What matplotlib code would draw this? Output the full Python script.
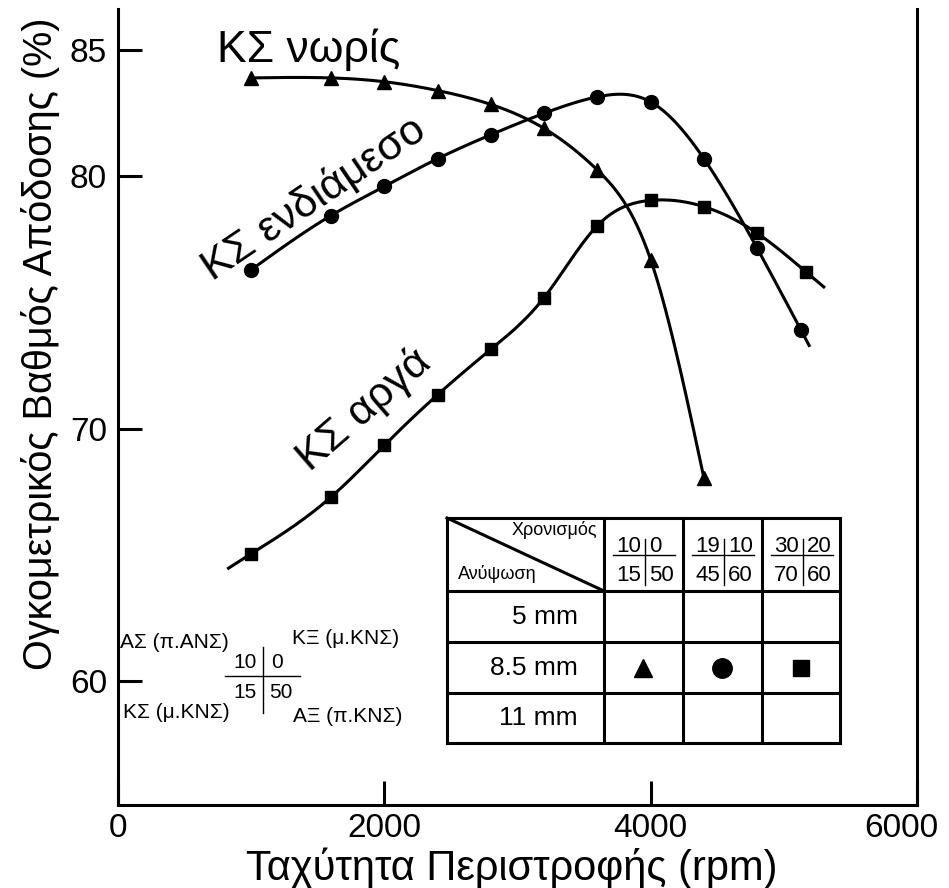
import numpy as np
import matplotlib.pyplot as plt
import matplotlib.transforms as mtransforms

# στροφές (rpm) και ογκομετρικός βαθμός απόδοσης (%) για τρεις χρονισμούς
rpm_early = [1000, 1600, 2000, 2400, 2800, 3200, 3600, 4000, 4400]
eff_early = [83.9, 83.9, 83.75, 83.4, 82.85, 81.9, 80.25, 76.7, 68.05]

rpm_mid = [1000, 1600, 2000, 2400, 2800, 3200, 3600, 4000, 4400, 4800, 5130]
eff_mid = [76.3, 78.45, 79.6, 80.7, 81.65, 82.5, 83.15, 82.95, 80.7, 77.15, 73.9]

rpm_late = [1000, 1600, 2000, 2400, 2800, 3200, 3600, 4000, 4400, 4800, 5170]
eff_late = [65.05, 67.3, 69.35, 71.35, 73.15, 75.2, 78.05, 79.05, 78.8, 77.75, 76.2]

# έκταση κάθε καμπύλης στον άξονα x
span_early = (1000, 4400)
span_mid = (1000, 5190)
span_late = (830, 5300)

curve_names = ['ΚΣ νωρίς', 'ΚΣ ενδιάμεσο', 'ΚΣ αργά']
markers = ['^', 'o', 's']
lifts = ['5 mm', '8.5 mm', '11 mm']
timings = [('10', '0', '15', '50'), ('19', '10', '45', '60'), ('30', '20', '70', '60')]

plt.rcParams['font.family'] = ['Liberation Sans', 'DejaVu Sans']


def cubic_spline(x, y, xs):
    # φυσική κυβική spline για ομαλή καμπύλη μέσα από τα σημεία
    x = np.asarray(x, float)
    y = np.asarray(y, float)
    n = len(x)
    h = np.diff(x)
    A = np.zeros((n, n))
    r = np.zeros(n)
    A[0, 0] = A[-1, -1] = 1
    for i in range(1, n - 1):
        A[i, i - 1] = h[i - 1]
        A[i, i] = 2 * (h[i - 1] + h[i])
        A[i, i + 1] = h[i]
        r[i] = 3 * ((y[i + 1] - y[i]) / h[i] - (y[i] - y[i - 1]) / h[i - 1])
    c = np.linalg.solve(A, r)
    b = (y[1:] - y[:-1]) / h - h * (2 * c[:-1] + c[1:]) / 3
    d = (c[1:] - c[:-1]) / (3 * h)
    idx = np.clip(np.searchsorted(x, xs) - 1, 0, n - 2)
    dx = xs - x[idx]
    return y[idx] + b[idx] * dx + c[idx] * dx ** 2 + d[idx] * dx ** 3


fig = plt.figure(figsize=(9.49, 8.88), dpi=100)
ax = fig.add_axes([118 / 949, 1 - 805 / 888, (917 - 118) / 949, (805 - 9) / 888])

for rx, ry, span, m, ms in [(rpm_early, eff_early, span_early, '^', 10),
                            (rpm_mid, eff_mid, span_mid, 'o', 10),
                            (rpm_late, eff_late, span_late, 's', 8.5)]:
    xs = np.linspace(span[0], span[1], 400)
    ax.plot(xs, cubic_spline(rx, ry, xs), color='black', lw=2.2, zorder=2)
    ax.plot(rx, ry, ls='none', marker=m, ms=ms, color='black', zorder=3)

ax.set_xlim(0, 6000)
ax.set_ylim(55.1, 86.63)
ax.set_xticks([0, 2000, 4000, 6000])
ax.set_yticks([60, 70, 80, 85])
ax.tick_params(direction='in', length=17, width=2.2, labelsize=24, right=False, top=False)
ax.tick_params(axis='y', pad=8)
ax.tick_params(axis='x', pad=6)
ax.spines['top'].set_visible(False)
for s in ['left', 'right', 'bottom']:
    ax.spines[s].set_linewidth(2.2)

# η τελευταία ετικέτα λίγο αριστερά ώστε να χωρά στο σχήμα
last = ax.get_xticklabels()[-1]
last.set_transform(last.get_transform() +
                   mtransforms.ScaledTranslation(-0.16, 0, fig.dpi_scale_trans))

ax.set_xlabel('Ταχύτητα Περιστροφής (rpm)', fontsize=30)
ax.xaxis.set_label_coords(0.493, -0.054)
ax.set_ylabel('Ογκομετρικός Βαθμός Απόδοσης (%)', fontsize=28.5)
ax.yaxis.set_label_coords(-0.0976, 0.58)
ax.yaxis.label.set_verticalalignment('center')

ax.text(743, 84.53, curve_names[0], fontsize=32, ha='left', va='baseline')
ax.text(713, 75.86, curve_names[1], fontsize=31, rotation=34,
        rotation_mode='anchor', ha='left', va='baseline')
ax.text(1442, 68.27, curve_names[2], fontsize=31, rotation=41,
        rotation_mode='anchor', ha='left', va='baseline')

# πίνακας συμβόλων και υπόμνημα χρονισμού σε συντεταγμένες εικονοστοιχείων
ov = fig.add_axes([0, 0, 1, 1], facecolor='none')
ov.set_xlim(0, 949)
ov.set_ylim(888, 0)
ov.axis('off')

cols = [447, 604, 683, 762, 840]
rows = [518, 591, 642, 693, 743]
for x in cols:
    ov.plot([x, x], [rows[0], rows[-1]], color='black', lw=2.2)
for y in rows:
    ov.plot([cols[0], cols[-1]], [y, y], color='black', lw=2.2)
ov.plot([cols[0], cols[1]], [rows[0], rows[1]], color='black', lw=2.2)
ov.text(597, 530, 'Χρονισμός', fontsize=13, ha='right', va='center')
ov.text(458, 574, 'Ανύψωση', fontsize=13, ha='left', va='center')

for j, (a, b, c, d) in enumerate(timings):
    vx = cols[j + 1] + 41
    ov.plot([cols[j + 1] + 9, cols[j + 1] + 71], [555, 555], color='black', lw=1)
    ov.plot([vx, vx], [539, 585], color='black', lw=1)
    ov.text(vx - 4, 546, a, fontsize=16, ha='right', va='center')
    ov.text(vx + 4, 546, b, fontsize=16, ha='left', va='center')
    ov.text(vx - 4, 575, c, fontsize=16, ha='right', va='center')
    ov.text(vx + 4, 575, d, fontsize=16, ha='left', va='center')

for i, lift in enumerate(lifts):
    ov.text(578, (rows[i + 1] + rows[i + 2]) / 2, lift, fontsize=19, ha='right', va='center')

for j, m in enumerate(markers):
    ov.plot((cols[j + 1] + cols[j + 2]) / 2, (rows[2] + rows[3]) / 2, ls='none',
            marker=m, ms={'^': 13, 'o': 14, 's': 12}[m], color='black')

ov.text(120, 642, 'ΑΣ (π.ΑΝΣ)', fontsize=15, ha='left', va='center')
ov.text(292, 638, 'ΚΞ (μ.ΚΝΣ)', fontsize=15, ha='left', va='center')
ov.text(123, 712, 'ΚΣ (μ.ΚΝΣ)', fontsize=15, ha='left', va='center')
ov.text(293, 716, 'ΑΞ (π.ΚΝΣ)', fontsize=15, ha='left', va='center')
ov.text(257, 662, '10', fontsize=15, ha='right', va='center')
ov.text(271, 662, '0', fontsize=15, ha='left', va='center')
ov.text(257, 692, '15', fontsize=15, ha='right', va='center')
ov.text(269, 692, '50', fontsize=15, ha='left', va='center')
ov.plot([225, 300], [676, 676], color='black', lw=1)
ov.plot([263, 263], [647, 713], color='black', lw=1)

fig.savefig('out.png', dpi=100)
